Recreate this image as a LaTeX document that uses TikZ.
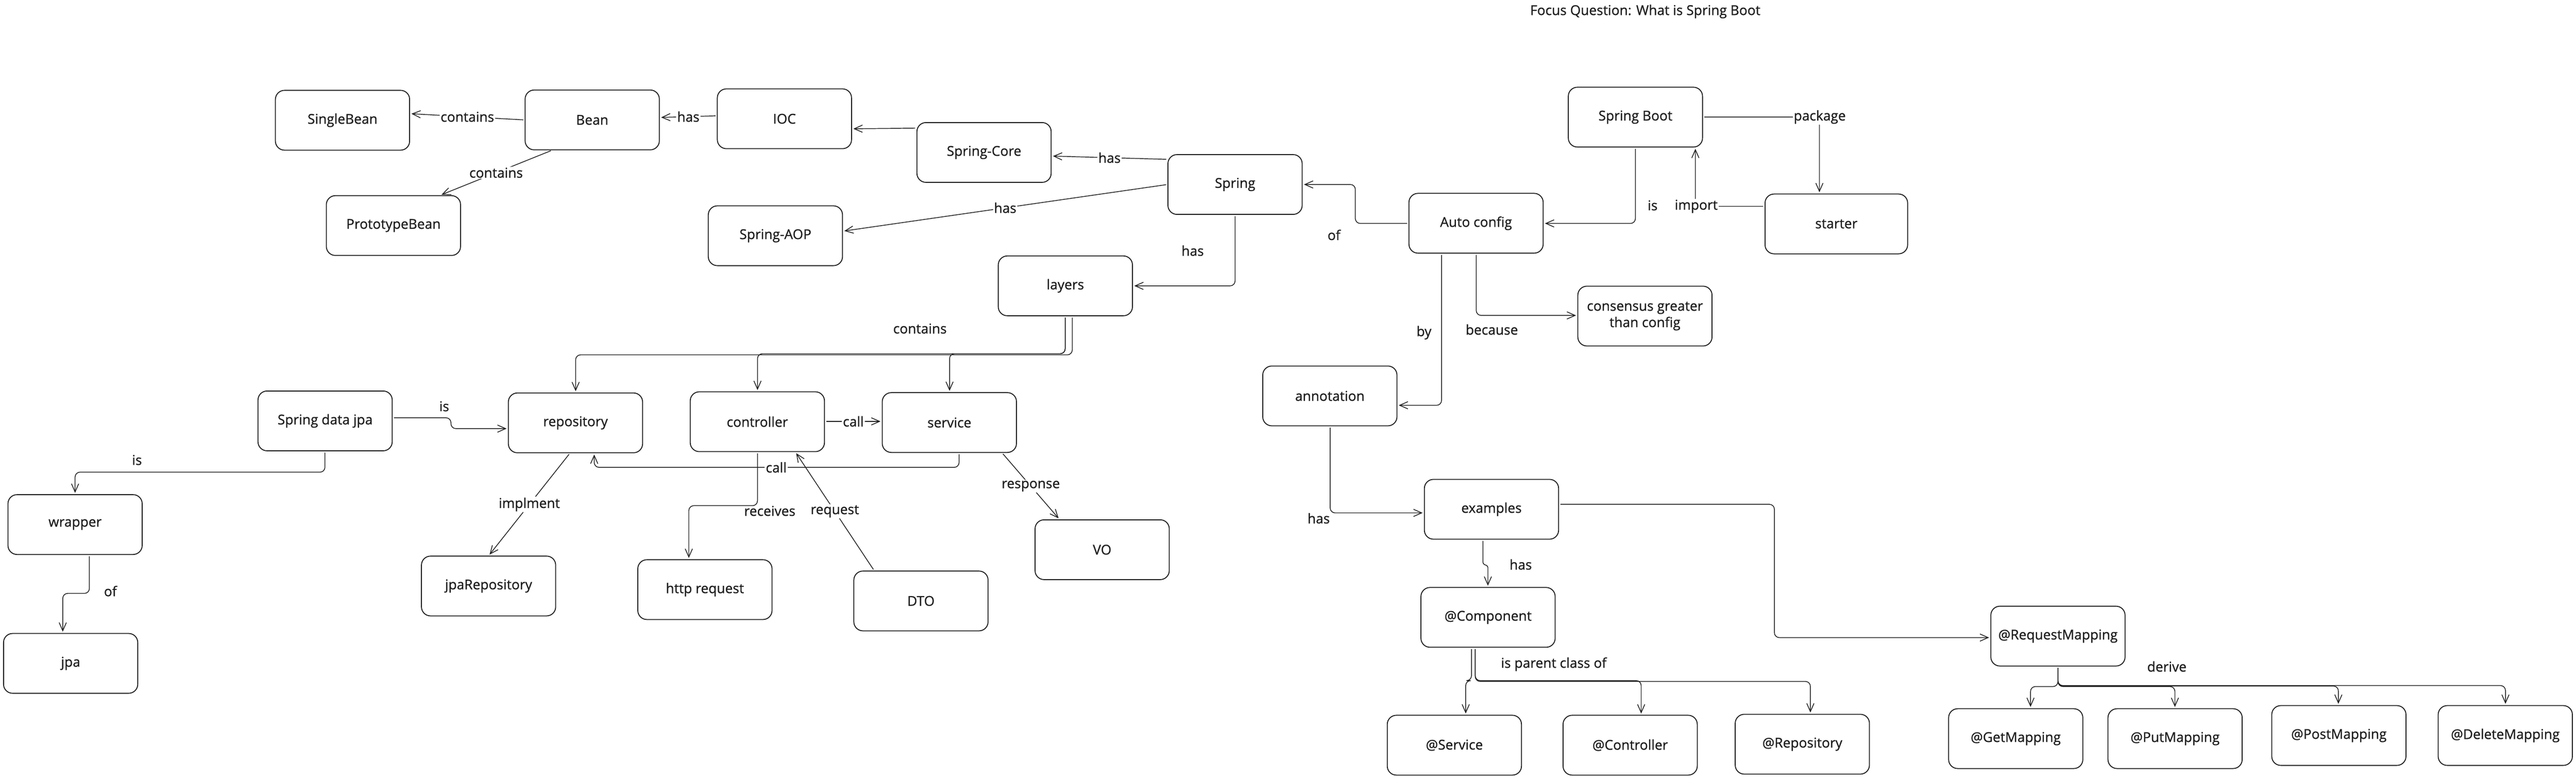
\documentclass[tikz,border=0pt]{standalone}
\usepackage{fontspec}
\setmainfont{Open Sans}[FakeBold=0.8]
\usetikzlibrary{arrows.meta}
\definecolor{ink}{HTML}{1E1E1E}
\begin{document}
\begin{tikzpicture}[x=1mm,y=-1mm,
  every node/.style={font=\fontsize{23.5}{28.4}\selectfont, text=ink},
  box/.style={draw=ink, line width=1.6pt, rounded corners=5.5mm, minimum width=81.7mm, minimum height=36.4mm, inner sep=0pt, align=center},
  conn/.style={draw=ink, line width=1.3pt, rounded corners=3mm, -{Straight Barb[length=5mm,width=4.4mm]}, shorten >=0.8mm, shorten <=0.8mm},
  lbl/.style={inner sep=0.6mm},
  lblw/.style={lbl, fill=white}]
\useasboundingbox (0,0) rectangle (1568.06,474);

% title
\node[lbl] (title) at (1001.5,7) {Focus Question: What is Spring Boot};

% upper nodes
\node[box] (sbean) at (208.5,73.2) {SingleBean};
\node[box] (bean) at (360.5,73) {Bean};
\node[box] (ioc) at (477.5,72.3) {IOC};
\node[box] (proto) at (239.5,137.3) {PrototypeBean};
\node[box] (aop) at (472,143.5) {Spring-AOP};
\node[box] (core) at (599,92.8) {Spring-Core};
\node[box] (spring) at (751.8,112.3) {Spring};
\node[box] (boot) at (995.5,71.3) {Spring Boot};
\node[box] (auto) at (898.5,135.9) {Auto config};
\node[box] (layers) at (648.5,174) {layers};
\node[box, minimum width=86.8mm] (starter) at (1117.8,136.3) {starter};
\node[box] (consensus) at (1001.3,192.4) {consensus greater\\than config};

% lower nodes
\node[box] (sdj) at (197.9,256.2) {Spring data jpa};
\node[box] (wrapper) at (45.7,319.3) {wrapper};
\node[box] (jpa) at (43,403.8) {jpa};
\node[box] (repo) at (350.3,257.4) {repository};
\node[box] (ctrl) at (461,256.7) {controller};
\node[box] (svc) at (577.9,257.2) {service};
\node[box] (jparepo) at (297.4,356.7) {jpaRepository};
\node[box] (http) at (429.1,358.9) {http request};
\node[box] (dto) at (560.6,365.8) {DTO};
\node[box] (vo) at (670.9,334.6) {VO};
\node[box] (annot) at (809.5,241) {annotation};
\node[box] (examples) at (907.9,310) {examples};
\node[box] (comp) at (905.8,375.8) {@Component};
\node[box] (atsvc) at (885.3,453.6) {@Service};
\node[box] (atctrl) at (992.3,453.6) {@Controller};
\node[box] (atrepo) at (1097.1,453) {@Repository};
\node[box] (reqmap) at (1252.7,387.2) {@RequestMapping};
\node[box] (getm) at (1227,449.6) {@GetMapping};
\node[box] (putm) at (1324,449.6) {@PutMapping};
\node[box] (postm) at (1423.7,447.7) {@PostMapping};
\node[box] (delm) at (1525,447.7) {@DeleteMapping};

% upper connectors
\draw[conn] (bean.west) -- ([yshift=4mm]sbean.east) node[lblw, midway] (l1) {contains};
\draw[conn] (ioc.west |- 0,70.5) -- (bean.east |- 0,71.5) node[lblw, midway] (l2) {has};
\draw[conn] (core.west |- 0,78) -- (ioc.east |- 0,78.4);
\draw[conn] (bean.south -| 336,0) -- (proto.north -| 268,0) node[lblw, midway] (l3) {contains};
\draw[conn] (spring.west |- 0,97) -- (core.east |- 0,95) node[lblw, midway] (l4) {has};
\draw[conn] (spring.west |- 0,112.3) -- (aop.east |- 0,140.7) node[lblw, midway] (l5) {has};
\draw[conn] (spring.south) -- (751.8,174) -- (layers.east |- 0,174);
\node[lbl] (l6) at (726,152.6) {has};
\draw[conn] (auto.west |- 0,136) -- (825,136) -- (825,112.3) -- (spring.east |- 0,112.3);
\node[lbl] (l7) at (812,143) {of};
\draw[conn] (boot.south) -- (995.5,136) -- (auto.east |- 0,136);
\node[lbl] (l8) at (1006,125) {is};
\draw[conn] (starter.west |- 0,125.6) -- (1032,125.6) -- (boot.south -| 1032,0);
\node[lblw] (l9) at (1032.5,125.6) {import};
\draw[conn] (boot.east |- 0,71.2) -- (1107.5,71.2) -- (starter.north -| 1107.5,0);
\node[lblw] (l10) at (1107.7,71.2) {package};
\draw[conn] (auto.south -| 898.6,0) -- (898.6,192) -- (consensus.west |- 0,192);
\node[lbl] (l11) at (908.1,200.6) {because};
\draw[conn] (auto.south -| 877.5,0) -- (877.5,246.7) -- (annot.east |- 0,246.7);
\node[lbl] (l12) at (866.8,202.5) {by};

% layers contains
\draw[conn] (layers.south -| 652.7,0) -- (652.7,216) -- (350.4,216) -- (repo.north -| 350.4,0);
\draw[conn] (layers.south -| 648.4,0) -- (648.4,215.3) -- (461.1,215.3) -- (ctrl.north -| 461.1,0);
\draw[conn] (layers.south -| 648.4,0) -- (648.4,215.3) -- (578,215.3) -- (svc.north -| 578,0);
\node[lbl] (l13) at (560,200) {contains};

% lower left
\draw[conn] (sdj.south -| 197.8,0) -- (197.8,287.4) -- (45.7,287.4) -- (wrapper.north -| 45.7,0);
\node[lbl] (l14) at (83.4,280) {is};
\draw[conn] (wrapper.south -| 54.4,0) -- (54.4,361.2) -- (38.2,361.2) -- (jpa.north -| 38.2,0);
\node[lbl] (l15) at (67.2,359.8) {of};
\draw[conn] (sdj.east |- 0,254.3) -- (274.5,254.3) -- (274.5,260.9) -- (repo.west |- 0,260.9);
\node[lbl] (l16) at (270.4,247.3) {is};

% middle layer
\draw[conn] (ctrl.east |- 0,256.5) -- (svc.west |- 0,256.5) node[lblw, midway] (l17) {call};
\draw[conn] (svc.south -| 583.8,0) -- (583.8,284.5) -- (361.7,284.5) -- (repo.south -| 361.7,0);
\node[lblw] (l18) at (472.5,284.5) {call};
\draw[conn] (ctrl.south -| 461.1,0) -- (461.1,307.8) -- (419.3,307.8) -- (http.north -| 419.3,0);
\node[lbl] (l19) at (468.6,311) {receives};
\draw[conn] (dto.north -| 532.1,0) -- (ctrl.south -| 484.2,0) node[lblw, midway] (l20) {request};
\draw[conn] (repo.south -| 346.9,0) -- (jparepo.north -| 297.5,0) node[lblw, midway] (l21) {implment};
\draw[conn] (svc.south -| 610,0) -- (vo.north -| 644.9,0) node[lblw, midway] (l22) {response};

% annotation part
\draw[conn] (annot.south -| 809.7,0) -- (809.7,312.2) -- (examples.west |- 0,312.2);
\node[lbl] (l23) at (802.7,315.5) {has};
\draw[conn] (examples.east |- 0,307) -- (1080.1,307) -- (1080.1,388.1) -- (reqmap.west |- 0,388.1);
\draw[conn, rounded corners=1mm] (examples.south -| 902.7,0) -- (902.7,343.3) -- (905.7,344.5) -- (comp.north -| 905.7,0);
\node[lbl] (l24) at (925.7,343.6) {has};

% is parent class of
\draw[conn] (comp.south -| 895.7,0) -- (895.7,414.3) -- (892.2,414.3) -- (atsvc.north -| 892.2,0);
\draw[conn] (comp.south -| 898,0) -- (898,414.3) -- (999,414.3) -- (atctrl.north -| 999,0);
\draw[conn] (comp.south -| 898,0) -- (898,414.8) -- (1102,414.8) -- (atrepo.north -| 1102,0);
\node[lbl] (l25) at (945.8,404.3) {is parent class of};

% derive
\draw[conn] (reqmap.south -| 1252.7,0) -- (1252.7,417.9) -- (1236,417.9) -- (getm.north -| 1236,0);
\draw[conn] (reqmap.south -| 1252.7,0) -- (1252.7,417.9) -- (1323.9,417.9) -- (putm.north -| 1323.9,0);
\draw[conn] (reqmap.south -| 1252.7,0) -- (1252.7,417.6) -- (1423.4,417.6) -- (postm.north -| 1423.4,0);
\draw[conn] (reqmap.south -| 1252.7,0) -- (1252.7,417.3) -- (1525.1,417.3) -- (delm.north -| 1525.1,0);
\node[lbl] (l26) at (1319,405.7) {derive};
\end{tikzpicture}
\end{document}
